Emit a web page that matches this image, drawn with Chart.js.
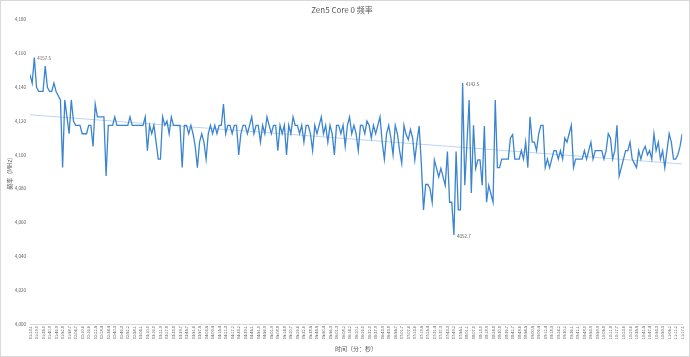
<!DOCTYPE html>
<html><head><meta charset="utf-8">
<script src="https://cdn.jsdelivr.net/npm/chart.js@4/dist/chart.umd.min.js"></script>
<style>html,body{margin:0;padding:0;background:#fff}#wrap{width:690px;height:357px;position:relative;box-sizing:border-box;border:1px solid #d9d9d9}</style>
</head><body><div id="wrap"><canvas id="c" width="688" height="355"></canvas></div>
<script>
const chartTitle = "Zen5 Core 0 频率";
const yTitle = "频率（MHz）";
const xTitle = "时间（分：秒）";
const yTicks = [4000,4020,4040,4060,4080,4100,4120,4140,4160,4180];
const tickLabels = ["01:23.1","01:29.0","01:35.0","01:40.9","01:46.9","01:52.8","01:58.7","02:04.7","02:10.6","02:16.6",
"02:22.5","02:28.4","02:34.4","02:40.3","02:46.3","02:52.2","02:58.1","03:04.1","03:10.0","03:16.0",
"03:21.9","03:27.8","03:33.8","03:39.7","03:45.7","03:51.6","03:57.5","04:03.5","04:09.4","04:15.4",
"04:21.3","04:27.2","04:33.2","04:39.1","04:45.1","04:51.0","04:56.9","05:02.9","05:08.8","05:14.8",
"05:20.7","05:26.6","05:32.6","05:38.5","05:44.5","05:50.4","05:56.3","06:02.3","06:08.2","06:14.2",
"06:20.1","06:26.0","06:32.0","06:37.9","06:43.9","06:49.8","06:55.7","07:01.7","07:07.6","07:13.6",
"07:19.5","07:25.4","07:31.4","07:37.3","07:43.3","07:49.2","07:55.1","08:01.1","08:07.0","08:13.0",
"08:18.9","08:24.8","08:30.8","08:36.7","08:42.7","08:48.6","08:54.5","09:00.5","09:06.4","09:12.4",
"09:18.3","09:24.2","09:30.2","09:36.1","09:42.1","09:48.0","09:53.9","09:59.9","10:05.8","10:11.8",
"10:17.7","10:23.6","10:29.6","10:35.5","10:41.5","10:47.4","10:53.3","10:59.3","11:05.2","11:11.2","11:17.1"];
const freq = [
4147.5,4142.5,4157.5,4140,4137.5,4137.5,4137.5,4152.5,4140,4137.5,
4137.5,4142.5,4137.5,4135,4132.5,4092.5,4132.5,4122.5,4112.5,4132.5,
4120,4117.5,4117.5,4117.5,4112.5,4112.5,4112.5,4117.5,4117.5,4105,
4130,4122.5,4122.5,4122.5,4122.5,4087.5,4117.5,4117.5,4117.5,4122.5,
4117.5,4117.5,4117.5,4117.5,4117.5,4117.5,4122.5,4117.5,4117.5,4117.5,
4117.5,4117.5,4117.5,4122.5,4102.5,4117.5,4112.5,4117.5,4107.5,4097.5,
4097.5,4122.5,4117.5,4120,4112.5,4122.5,4117.5,4117.5,4117.5,4117.5,
4092.5,4117.5,4117.5,4112.5,4117.5,4112.5,4105,4092.5,4107.5,4112.5,
4107.5,4097.5,4112.5,4117.5,4112.5,4117.5,4112.5,4117.5,4117.5,4130,
4112.5,4117.5,4117.5,4112.5,4117.5,4117.5,4100,4112.5,4117.5,4117.5,
4112.5,4117.5,4122.5,4112.5,4117.5,4117.5,4107.5,4117.5,4112.5,4122.5,
4117.5,4112.5,4117.5,4117.5,4102.5,4117.5,4112.5,4117.5,4100,4117.5,
4112.5,4122.5,4117.5,4117.5,4112.5,4117.5,4107.5,4117.5,4117.5,4112.5,
4102.5,4117.5,4112.5,4117.5,4122.5,4112.5,4117.5,4107.5,4117.5,4112.5,
4100,4117.5,4117.5,4112.5,4117.5,4105,4117.5,4122.5,4112.5,4117.5,
4112.5,4102.5,4117.5,4117.5,4112.5,4120,4117.5,4110,4117.5,4112.5,
4117.5,4122.5,4107.5,4097.5,4112.5,4117.5,4110,4100,4117.5,4112.5,
4102.5,4095,4117.5,4112,4109,4115,4110,4097,4108,4117,
4095,4067.5,4082.5,4082.5,4080,4072,4097,4092,4087,4092,
4087,4082,4102,4072,4072,4052.7,4102,4067.5,4067.5,4142.5,
4082,4107,4132.5,4077.5,4117.5,4092,4097,4097,4082,4117,
4072,4082,4077,4072,4132.5,4092.5,4092.5,4097.5,4097.5,4097.5,
4097.5,4110,4112,4097.5,4097.5,4097.5,4102.5,4097.5,4107.5,4092.5,
4122.5,4107.5,4107.5,4102.5,4112.5,4117.5,4117.5,4092.5,4097.5,4092.5,
4097.5,4102.5,4102.5,4097.5,4102.5,4097.5,4110,4107.5,4112.5,4117.5,
4092.5,4097.5,4097.5,4097.5,4097.5,4102.5,4097.5,4102.5,4107.5,4097.5,
4102.5,4102.5,4102.5,4102.5,4097.5,4102.5,4112.5,4110,4097.5,4102.5,
4117.5,4087.5,4092.5,4097.5,4102.5,4102.5,4107.5,4097.5,4095,4092.5,
4102.5,4097.5,4102.5,4105,4100,4102.5,4097.5,4112.5,4102.5,4107.5,
4097.5,4102.5,4092.5,4102.5,4112.5,4107.5,4097.5,4097.5,4100,4105,
4112.5];
const labeledIdx = [2, 195, 199];

const pts = freq.map((v,i)=>({x:i,y:v}));
// linear trendline (least squares) from the series
let n=freq.length,sx=0,sy=0,sxy=0,sxx=0;
freq.forEach((v,i)=>{sx+=i;sy+=v;sxy+=i*v;sxx+=i*i;});
const slope=(n*sxy-sx*sy)/(n*sxx-sx*sx), icpt=(sy-slope*sx)/n;
const trend=[{x:0,y:icpt},{x:n-1,y:icpt+slope*(n-1)}];

const FONT = "'Noto Sans CJK SC','Noto Sans',sans-serif";
const labelPlugin = {
  id:'dl',
  afterDatasetsDraw(chart){
    const ctx=chart.ctx, meta=chart.getDatasetMeta(0);
    ctx.save();
    ctx.font="4.5px "+FONT; ctx.fillStyle="#595959"; ctx.textBaseline="middle"; ctx.textAlign="left";
    labeledIdx.forEach(i=>{
      const p=meta.data[i];
      ctx.fillText(freq[i].toFixed(1), p.x+3, p.y+1);
    });
    ctx.restore();
  }
};

new Chart(document.getElementById('c'),{
  type:'line',
  data:{datasets:[
    {data:pts,borderColor:'#3b84cf',borderWidth:1.3,pointRadius:0,tension:0,order:1},
    {data:trend,borderColor:'#bcd5ee',borderWidth:1,pointRadius:0,order:2}
  ]},
  options:{
    responsive:false,animation:false,
    layout:{padding:{left:0,right:6,top:0,bottom:0}},
    plugins:{
      legend:{display:false},tooltip:{enabled:false},
      title:{display:true,text:chartTitle,color:'#595959',font:{family:FONT,size:8,weight:'normal'},padding:{top:4,bottom:5}}
    },
    scales:{
      x:{type:'linear',min:0,max:300,
        afterFit:s=>{s.height=32;},
        afterBuildTicks:s=>{s.ticks=tickLabels.map((t,k)=>({value:k*3}));},
        ticks:{autoSkip:false,maxRotation:90,minRotation:90,color:'#595959',font:{family:FONT,size:4},padding:2,
          callback:(v)=>tickLabels[Math.round(v/3)]},
        grid:{display:true,color:'rgba(0,0,0,0)',drawTicks:false,tickLength:0},
        border:{display:true,color:'#d9d9d9',width:1},
        title:{display:true,text:xTitle,color:'#595959',font:{family:FONT,size:6},padding:{top:0,bottom:4}}
      },
      y:{min:4000,max:4180,
        afterFit:s=>{s.width=29;},
        afterBuildTicks:s=>{s.ticks=yTicks.map(v=>({value:v}));},
        ticks:{color:'#595959',font:{family:FONT,size:4.5},padding:4},
        grid:{display:false,drawTicks:false,tickLength:0},border:{display:false},
        title:{display:true,text:yTitle,color:'#595959',font:{family:FONT,size:6},padding:{top:5,bottom:0}}
      }
    }
  },
  plugins:[labelPlugin]
});
</script></body></html>
